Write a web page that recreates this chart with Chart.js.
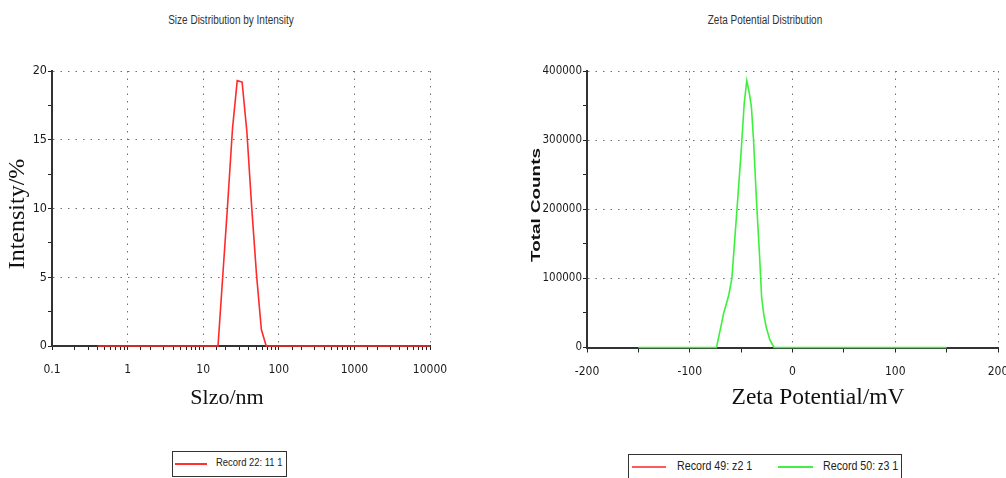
<!DOCTYPE html>
<html>
<head>
<meta charset="utf-8">
<script src="https://cdn.jsdelivr.net/npm/chart.js@4.4.1/dist/chart.umd.min.js"></script>
<style>
  html, body { margin: 0; padding: 0; background: #fff; }
  body {
    position: relative; width: 1006px; height: 478px; overflow: hidden;
    font-family: 'Liberation Sans', Arial, sans-serif;
    color: #222;
  }
  canvas { position: absolute; top: 0; }
  .title { position: absolute; top: 13px; font-size: 12.5px; line-height: 14px; white-space: nowrap; transform: translateX(-50%) scaleX(0.8); color: #333; }
  .legend { position: absolute; border: 1.5px solid #333; background: #fff; box-sizing: border-box; white-space: nowrap; }
  .legend .ln { position: absolute; height: 2px; }
  .legend .tx { position: absolute; color: #222; transform: scaleX(0.82); transform-origin: 0 50%; }
</style>
</head>
<body>
<div class="title" style="left:231px">Size Distribution by Intensity</div>
<div class="title" style="left:765px">Zeta Potential Distribution</div>

<canvas id="sizeChart" width="500" height="478" style="left:0"></canvas>
<canvas id="zetaChart" width="540" height="478" style="left:500px"></canvas>

<div class="legend" style="left:172px; top:451px; width:115px; height:26px; font-size:11.5px;">
  <div class="ln" style="left:2px; width:32px; top:11px; background:#ff3030"></div>
  <div class="tx" style="left:43px; top:4px">Record 22: 11 1</div>
</div>
<div class="legend" style="left:628px; top:454px; width:274px; height:34px; font-size:13px;">
  <div class="ln" style="left:3px; width:34px; top:11px; background:#ff5a5a"></div>
  <div class="tx" style="left:48px; top:3px">Record 49: z2 1</div>
  <div class="ln" style="left:149px; width:35px; top:11px; background:#44ee44"></div>
  <div class="tx" style="left:194px; top:3px">Record 50: z3 1</div>
</div>

<script>
// Size distribution (DLS): hydrodynamic size in nm vs intensity %
const sizeNm       = [0.4, 15.7, 18.2, 21.0, 24.4, 28.2, 32.7, 37.8, 43.8, 50.7, 58.8, 68.1, 10000];
const intensityPct = [0,   0,    5.2,  10.2, 15.8, 19.3, 19.2, 15.6, 10.1, 5.2,  1.2,  0,    0];
const sizeTickLabels = [0.1, 1, 10, 100, 1000, 10000];

// Zeta potential distribution: mV vs total counts
const zetaMv     = [-150, -74, -70, -67, -64, -62, -59, -56, -53, -50, -47, -44.5, -42, -40, -38, -35, -32, -30, -28, -25.5, -22, -18, 150];
const zetaCounts = [0, 0, 28000, 49500, 65000, 76000, 100000, 160000, 221000, 283000, 353000, 386000, 368000, 348000, 302000, 211000, 131000, 72000, 48000, 29000, 11000, 0, 0];
const record49 = []; // second record in the legend, nothing visible on the plot

const NARROW = "'DejaVu Sans Condensed', 'Liberation Sans Narrow', sans-serif";
const SERIF = "'Liberation Serif', 'DejaVu Serif', serif";
const GRID = '#707070';
const CLEAR = 'rgba(0,0,0,0)';

const isDecade = v => sizeTickLabels.some(t => Math.abs(t - v) < t * 1e-6);

// axis titles at fixed spots of the canvas
const axisText = {
  id: 'axisText',
  afterDraw(chart, args, o) {
    const ctx = chart.ctx;
    ctx.save();
    ctx.fillStyle = '#111';
    ctx.textAlign = 'center';
    ctx.textBaseline = 'middle';
    ctx.font = o.xFont;
    ctx.fillText(o.xText, o.xAt[0], o.xAt[1]);
    ctx.translate(o.yAt[0], o.yAt[1]);
    ctx.rotate(-Math.PI / 2);
    ctx.scale(o.yStretch || 1, 1);
    ctx.font = o.yFont;
    ctx.fillText(o.yText, 0, 0);
    ctx.restore();
  }
};

function toPoints(xs, ys) {
  return xs.map((x, i) => ({ x, y: ys[i] }));
}

new Chart(document.getElementById('sizeChart'), {
  type: 'line',
  data: {
    datasets: [{
      label: 'Record 22: 11 1',
      data: toPoints(sizeNm, intensityPct),
      borderColor: '#ff2a2a',
      borderWidth: 1.6,
      pointRadius: 0,
      tension: 0,
      clip: 4
    }]
  },
  options: {
    responsive: false,
    animation: false,
    layout: { padding: { left: 0, top: 71, right: 70, bottom: 67 } },
    plugins: {
      legend: { display: false },
      tooltip: { enabled: false },
      axisText: {
        xText: 'Slzo/nm', xFont: '22px ' + SERIF, xAt: [227, 398],
        yText: 'Intensity/%', yFont: '24px ' + SERIF, yAt: [18, 214]
      }
    },
    scales: {
      x: {
        type: 'logarithmic', min: 0.1, max: 10000,
        afterFit(s) { s.height = 65; },
        grid: {
          color: c => (c.tick && isDecade(c.tick.value)) ? GRID : CLEAR,
          tickColor: '#222', tickLength: 4, tickWidth: 1
        },
        border: { color: '#333', width: 2, dash: [1.5, 6] },
        ticks: {
          autoSkip: false, maxRotation: 0, padding: 13, color: '#1a1a1a',
          font: { family: NARROW, size: 12 },
          callback: v => isDecade(v) ? String(v) : ''
        }
      },
      y: {
        min: 0, max: 20,
        afterFit(s) { s.width = 52; },
        grid: {
          color: c => (c.tick && c.tick.value % 5 === 0) ? GRID : CLEAR,
          tickColor: '#222', tickLength: 4, tickWidth: 1
        },
        border: { color: '#333', width: 2, dash: [1.5, 6] },
        ticks: {
          stepSize: 2.5, padding: 1, color: '#1a1a1a',
          font: { family: NARROW, size: 12.5 },
          callback: v => v % 5 === 0 ? String(v) : ''
        }
      }
    }
  },
  plugins: [axisText]
});

new Chart(document.getElementById('zetaChart'), {
  type: 'line',
  data: {
    datasets: [{
      label: 'Record 49: z2 1',
      data: record49,
      borderColor: '#ff5a5a',
      borderWidth: 1.6,
      pointRadius: 0
    }, {
      label: 'Record 50: z3 1',
      data: toPoints(zetaMv, zetaCounts),
      borderColor: '#3cf03c',
      borderWidth: 1.6,
      pointRadius: 0,
      tension: 0,
      clip: 4
    }]
  },
  options: {
    responsive: false,
    animation: false,
    layout: { padding: { left: 0, top: 71, right: 42, bottom: 66.5 } },
    plugins: {
      legend: { display: false },
      tooltip: { enabled: false },
      axisText: {
        xText: 'Zeta Potential/mV', xFont: '23.5px ' + SERIF, xAt: [318, 398],
        yText: 'Total Counts', yFont: 'bold 13px ' + "'Liberation Sans', Arial, sans-serif", yAt: [36, 205], yStretch: 1.45
      }
    },
    scales: {
      x: {
        type: 'linear', min: -200, max: 200,
        afterFit(s) { s.height = 64; },
        grid: {
          color: c => (c.tick && c.tick.value % 100 === 0) ? GRID : CLEAR,
          tickColor: '#222', tickLength: 5, tickWidth: 1
        },
        border: { color: '#333', width: 2, dash: [1.5, 6] },
        ticks: {
          stepSize: 50, autoSkip: false, maxRotation: 0, padding: 12, color: '#1a1a1a',
          font: { family: NARROW, size: 12 },
          callback: v => v % 100 === 0 ? String(v) : ''
        }
      },
      y: {
        min: 0, max: 400000,
        afterFit(s) { s.width = 87; },
        grid: {
          color: c => (c.tick && c.tick.value % 100000 === 0) ? GRID : CLEAR,
          tickColor: '#222', tickLength: 4, tickWidth: 1
        },
        border: { color: '#333', width: 2, dash: [1.5, 6] },
        ticks: {
          stepSize: 50000, padding: 1, color: '#1a1a1a',
          font: { family: NARROW, size: 11.5 },
          callback: v => v % 100000 === 0 ? String(v) : ''
        }
      }
    }
  },
  plugins: [axisText]
});
</script>
</body>
</html>
